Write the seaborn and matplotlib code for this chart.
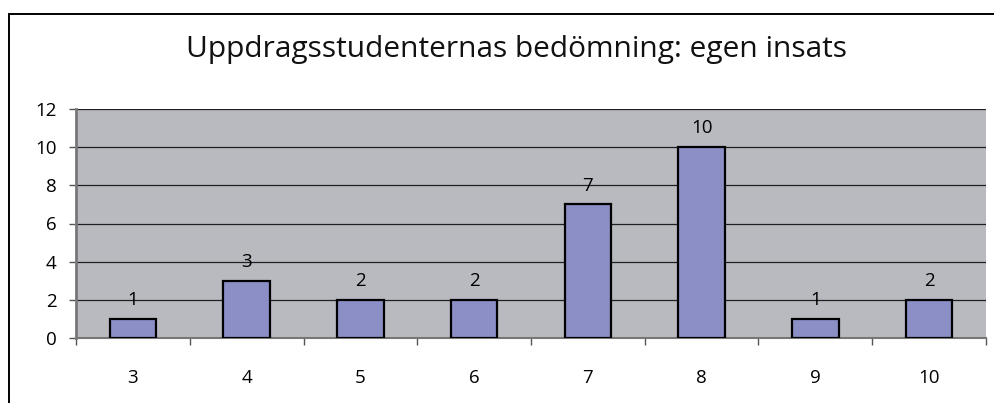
import matplotlib
matplotlib.use("Agg")
import matplotlib.pyplot as plt
import seaborn as sns
import pandas as pd
from matplotlib.ticker import MultipleLocator, FixedLocator
from matplotlib.patches import Rectangle

categories = ["3", "4", "5", "6", "7", "8", "9", "10"]
counts = [1, 3, 2, 2, 7, 10, 1, 2]
title = "Uppdragsstudenternas bedömning: egen insats"

df = pd.DataFrame({"betyg": categories, "antal": counts})

sns.set_theme(style="white")
plt.rcParams["font.family"] = ["Open Sans", "DejaVu Sans"]

fig = plt.figure(figsize=(9.95, 4.03), dpi=100)
ax = fig.add_axes([76/995, 1-338/403, (986-76)/995, (338-109)/403])

bar_color = "#8B8FC6"
sns.barplot(data=df, x="betyg", y="antal", order=categories, color=bar_color,
            width=0.41, edgecolor="black", linewidth=1.6, saturation=1, ax=ax,
            zorder=3)

ax.set_facecolor("#B9BABF")
ax.set_xlim(-0.5, len(categories) - 0.5)
ax.set_ylim(0, 12)
ax.yaxis.set_major_locator(MultipleLocator(2))
ax.grid(axis="y", color="#202020", linewidth=0.9, zorder=1)
ax.set_axisbelow(True)
ax.set_xlabel("")
ax.set_ylabel("")

for s in ["top", "right"]:
    ax.spines[s].set_visible(False)
ax.spines["left"].set_color("#777777")
ax.spines["left"].set_linewidth(2.0)
ax.spines["bottom"].set_color("#777777")
ax.spines["bottom"].set_linewidth(1.5)

ax.tick_params(axis="y", which="major", length=5, width=1.0, color="#555555",
               pad=9, labelsize=13.5, labelcolor="black", left=True)
ax.tick_params(axis="x", which="major", length=0, pad=22, labelsize=13.5,
               labelcolor="black")
ax.xaxis.set_minor_locator(FixedLocator([i + 0.5 for i in range(-1, len(categories))]))
ax.tick_params(axis="x", which="minor", length=5, width=1.0, color="#555555",
               bottom=True)

for i, v in enumerate(counts):
    ax.annotate(str(v), (i, v), xytext=(0, 7), textcoords="offset points",
                ha="center", va="bottom", fontsize=13.5, color="black")

fig.text(516/995, 1-50/403, title, ha="center", va="center", fontsize=21.5,
         color="#111111")

border = Rectangle((9/995, -0.1), 1.1, 1 - 14/403 + 0.1, transform=fig.transFigure,
                   fill=False, edgecolor="black", linewidth=1.4)
fig.patches.append(border)

fig.savefig("out.png", dpi=100)
